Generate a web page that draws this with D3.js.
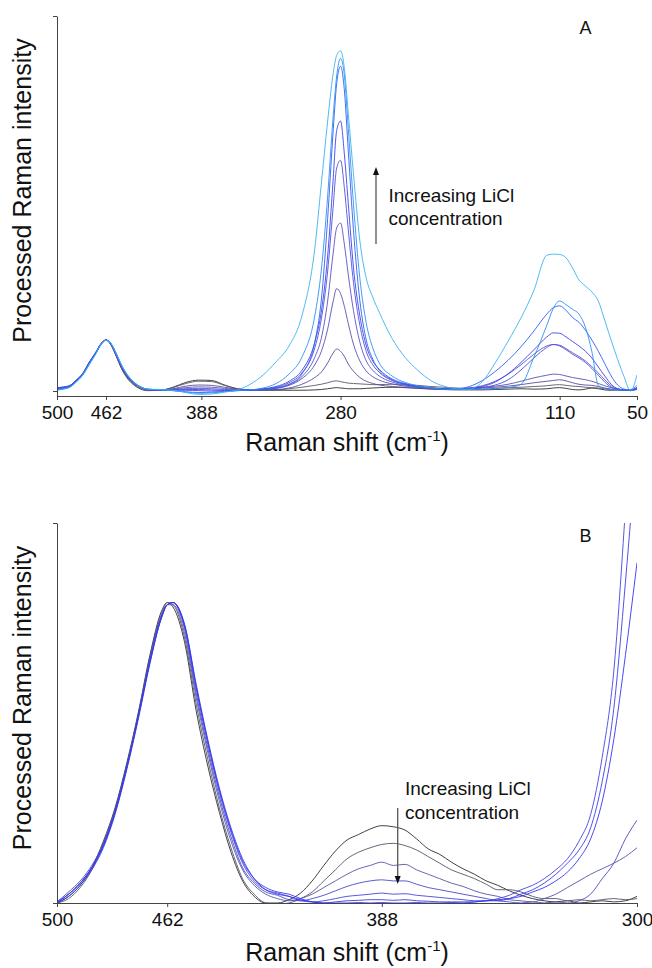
<!DOCTYPE html>
<html><head><meta charset="utf-8">
<script src="https://cdn.jsdelivr.net/npm/d3@7"></script>
<style>
body{margin:0;background:#fff}
svg{display:block}
text{font-family:"Liberation Sans",Arial,sans-serif;fill:#111}
</style>
</head><body>
<svg id="chart" width="652" height="968"></svg>
<script>
// ---------- Panel A data (Raman shift, cm-1) ----------
const xA = [500,495,490,485,480,475,470,466,462,458,454,450,445,440,435,430,
  420,410,400,390,380,370,360,350,340,330,320,310,
  300,295,290,286,283,280,277,274,270,265,260,255,250,
  240,230,220,210,200,190,180,170,160,150,140,130,120,115,110,105,100,95,90,85,80,75,70,65,60,55,50];
const ticksA = [500,462,388,280,110,50];

const spectrumA1 = [0.4,0.6,1.1,2.6,4.4,7.4,10.1,12.6,13.6,12.2,9.2,6.0,3.2,1.5,0.5,0.1,
  0.2,1.0,2.3,2.9,2.8,1.6,0.6,0.3,0.2,0.2,0.2,0.2,
  0.3,0.4,0.6,0.8,0.9,0.8,0.7,0.6,0.6,0.6,0.7,0.8,0.9,
  1.0,0.9,0.7,0.5,0.4,0.3,0.3,0.3,0.4,0.5,0.6,0.5,0.6,0.8,0.9,0.7,0.4,0.3,0.5,0.8,0.6,0.3,0.2,0.3,0.2,0.3,0.4];
const spectrumA2 = [0.5,0.7,1.2,2.7,4.5,7.5,10.2,12.5,13.6,12.3,9.4,6.2,3.4,1.7,0.7,0.3,
  0.2,0.9,2.0,2.6,2.5,1.5,0.6,0.3,0.3,0.3,0.6,1.0,
  1.5,1.8,2.2,2.6,2.7,2.5,2.3,2.1,2.0,1.9,1.8,1.7,1.7,
  1.8,1.6,1.5,1.2,1.0,0.8,0.6,0.5,0.7,0.9,1.0,1.2,1.4,1.6,1.7,1.5,1.3,1.2,1.0,0.9,0.8,0.6,0.4,0.3,0.4,0.3,0.5];
const spectrumA3 = [0.6,0.8,1.3,2.8,4.6,7.6,10.2,12.5,13.6,12.3,9.5,6.4,3.6,1.9,0.9,0.4,
  0.3,0.6,1.3,1.6,1.5,1.0,0.5,0.3,0.3,0.4,0.8,1.8,
  3.6,5.0,7.5,10.0,11.2,10.6,9.2,7.2,5.3,3.6,2.6,2.0,1.6,
  1.2,1.0,0.8,0.6,0.5,0.5,0.6,0.8,1.0,1.3,1.7,2.2,2.6,2.8,3.0,2.7,2.2,1.8,1.6,1.5,1.2,0.8,0.5,0.3,0.2,0.3,0.5];
const spectrumA4 = [0.7,0.8,1.3,2.8,4.7,7.7,10.3,12.5,13.6,12.4,9.6,6.5,3.7,2.0,1.0,0.4,
  0.3,0.5,0.9,1.1,1.0,0.7,0.4,0.3,0.4,0.7,1.5,3.3,
  7.0,10.5,16.5,23.5,27.3,26.0,22.5,18.0,12.5,8.0,5.3,3.8,2.9,
  1.9,1.3,1.0,0.7,0.6,0.6,0.8,1.0,1.3,1.8,2.6,3.5,4.2,4.5,4.4,4.0,3.6,3.3,3.0,2.6,2.0,1.4,0.9,0.5,0.3,0.2,0.4];
const spectrumA5 = [0.6,0.9,1.4,2.9,4.7,7.6,10.2,12.4,13.6,12.4,9.7,6.6,3.8,2.0,1.0,0.5,
  0.3,0.4,0.6,0.7,0.6,0.4,0.3,0.3,0.5,0.8,1.7,3.8,
  9.0,14.0,24.0,36.0,43.5,44.8,39.0,31.0,21.5,13.0,8.0,5.5,4.0,
  2.4,1.6,1.1,0.8,0.6,0.6,0.8,1.4,2.6,4.5,7.0,9.8,12.0,12.4,12.2,11.3,10.2,9.2,8.0,6.5,4.8,3.0,1.4,0.6,0.3,0.2,0.5];
const spectrumA6 = [0.8,1.0,1.4,2.9,4.6,7.5,10.1,12.4,13.6,12.5,9.8,6.7,3.9,2.1,1.0,0.4,
  0.3,0.3,0.4,0.4,0.3,0.2,0.2,0.3,0.5,1.0,2.2,4.8,
  11.5,19.0,32.0,48.0,59.5,61.5,54.0,43.0,29.0,17.5,10.5,7.0,5.0,
  2.8,1.8,1.2,0.8,0.6,0.5,0.6,0.9,1.6,3.0,5.6,8.8,11.6,12.4,12.0,11.0,9.8,8.8,7.6,6.0,4.2,2.4,1.0,0.4,0.3,0.3,0.6];
const spectrumA7 = [0.9,1.1,1.5,2.8,4.5,7.4,10.0,12.3,13.6,12.6,9.9,6.8,4.0,2.2,1.1,0.5,
  0.3,0.2,0.2,0.1,0.0,0.1,0.2,0.3,0.6,1.2,2.6,5.5,
  13.0,21.0,36.0,55.0,69.5,72.0,63.0,50.0,33.0,20.0,12.0,8.0,5.8,
  3.2,2.0,1.3,0.9,0.6,0.5,0.7,1.2,2.4,4.6,7.6,11.0,14.4,15.5,15.4,14.4,13.2,12.0,10.6,8.8,6.4,4.0,1.8,0.6,0.3,0.3,0.8];
const spectrumA8 = [0.5,0.8,1.3,2.7,4.5,7.4,10.1,12.4,13.6,12.5,9.8,6.8,3.9,2.1,1.0,0.4,
  0.3,0.1,-0.2,-0.4,-0.3,-0.1,0.1,0.2,0.4,0.8,1.8,4.5,
  13.0,24.0,46.0,68.0,82.0,86.6,80.0,64.0,43.0,24.0,13.5,8.5,5.5,
  3.0,1.8,1.1,0.7,0.5,0.6,1.2,2.8,5.2,8.2,11.8,16.0,20.5,22.2,22.7,21.5,19.6,18.3,16.2,13.6,10.6,7.3,4.0,1.6,0.5,0.3,1.0];
const spectrumA9 = [0.3,0.6,1.1,2.5,4.3,7.1,9.9,12.3,13.5,12.6,10.0,7.0,4.1,2.2,1.0,0.5,
  0.3,0.1,-0.3,-0.6,-0.5,-0.2,0.1,0.3,0.8,2.0,4.5,9.0,
  20.0,32.0,52.0,72.0,84.0,88.7,84.0,70.0,50.0,30.0,18.0,11.5,7.5,
  4.0,2.3,1.4,0.8,0.5,0.4,0.4,0.5,0.6,0.9,1.8,9.0,17.5,22.0,24.0,23.0,21.8,20.5,17.0,10.5,1.5,0.6,0.4,0.3,0.3,0.4,1.5];
const spectrumA10 = [0.2,0.5,1.0,2.4,4.2,7.0,9.8,12.3,13.5,12.6,10.0,7.0,4.2,2.3,1.1,0.5,
  0.4,0.2,-0.4,-0.9,-0.8,-0.3,0.3,1.8,4.3,7.8,12.0,20.0,
  38.0,55.0,72.0,84.0,89.5,90.7,86.0,74.0,58.0,40.0,30.0,25.0,21.0,
  14.0,9.0,5.5,2.8,1.3,0.6,0.5,2.5,7.5,13.3,19.5,26.8,36.2,36.5,36.4,35.5,32.8,29.6,28.0,26.4,24.0,18.8,13.5,8.4,3.8,0.0,4.3];
const seriesA = [spectrumA1,spectrumA2,spectrumA3,spectrumA4,spectrumA5,spectrumA6,spectrumA7,spectrumA8,spectrumA9,spectrumA10];
const coloursA = ['#2e2e2e','#5a5a6e','#55509a','#5b52b4','#5a52cc','#4f4fdc','#3d44ec','#2e62f0','#2f8ef5','#3bb3f2'];

// ---------- Panel B data ----------
const xB = [500,496,492,488,484,480,476,472,468,464,462,460,456,452,448,444,440,436,432,
  428,424,420,416,412,408,404,400,396,392,388,384,380,376,372,368,364,360,356,352,348,344,340,336,332,328,324,320,316,312,308,304,300];
const ticksB = [500,462,388,300];

const spectrumB1 = [0.0,0.3,0.8,1.6,2.8,4.3,6.3,8.6,11.2,13.2,13.6,13.4,11.8,8.7,6.2,4.1,2.3,1.0,0.3,
  0.0,0.0,0.15,0.45,1.0,1.7,2.35,2.85,3.1,3.35,3.5,3.45,3.3,2.9,2.45,2.2,1.85,1.55,1.3,1.0,0.8,0.55,0.35,0.2,0.1,0.05,0.1,0.0,0.05,0.1,0.05,0.1,0.3];
const spectrumB2 = [0.0,0.2,0.7,1.5,2.7,4.2,6.2,8.5,11.1,13.1,13.6,13.5,12.0,9.0,6.5,4.3,2.5,1.1,0.4,
  0.0,-0.05,0.0,0.2,0.5,1.0,1.5,2.0,2.3,2.5,2.65,2.7,2.6,2.4,2.1,1.8,1.5,1.3,1.1,0.85,0.6,0.6,0.5,0.3,0.2,0.2,0.1,0.15,0.1,0.15,0.2,0.15,0.2];
const spectrumB3 = [0.0,0.4,0.9,1.6,2.6,4.1,6.1,8.4,11.0,13.0,13.5,13.5,12.2,9.3,6.8,4.6,2.8,1.5,0.8,
  0.4,0.2,0.1,0.2,0.4,0.7,1.0,1.3,1.55,1.7,1.85,1.7,1.75,1.5,1.3,1.1,0.9,0.75,0.55,0.4,0.3,0.15,0.1,0.05,0.2,0.4,0.7,1.0,1.3,1.55,1.8,2.1,2.5];
const spectrumB4 = [0.05,0.5,1.0,1.7,2.7,4.2,6.2,8.5,11.0,13.0,13.5,13.6,12.4,9.5,7.0,4.8,3.0,1.6,0.9,
  0.5,0.35,0.15,0.1,0.2,0.35,0.55,0.75,0.9,1.0,1.05,1.0,1.0,0.85,0.7,0.6,0.5,0.4,0.3,0.2,0.1,0.05,0.0,0.05,0.0,0.05,0.0,0.1,0.4,1.1,1.8,2.9,3.75];
const spectrumB5 = [0.0,0.4,0.9,1.6,2.6,4.1,6.1,8.4,10.9,12.9,13.5,13.6,12.5,9.7,7.2,5.0,3.2,1.8,1.0,
  0.6,0.45,0.3,0.1,0.05,0.1,0.2,0.3,0.35,0.4,0.45,0.4,0.42,0.35,0.3,0.25,0.2,0.15,0.1,0.1,0.2,0.35,0.6,0.8,1.1,1.5,2.0,2.8,4.0,6.6,10.5,17.8,26.0];
const spectrumB6 = [0.0,0.3,0.8,1.5,2.5,4.0,6.0,8.3,10.8,12.9,13.5,13.6,12.6,9.8,7.3,5.1,3.3,1.9,1.1,
  0.7,0.5,0.4,0.2,0.05,0.0,0.05,0.1,0.12,0.15,0.15,0.12,0.15,0.1,0.08,0.05,0.05,0.05,0.05,0.1,0.1,0.2,0.4,0.6,0.9,1.3,1.8,2.4,3.4,5.5,8.8,14.5,21.0];
const spectrumB7 = [0.05,0.4,0.9,1.6,2.6,4.1,6.1,8.4,10.9,12.9,13.5,13.6,12.6,9.9,7.4,5.2,3.4,2.0,1.1,
  0.6,0.4,0.3,0.15,0.05,0.0,0.0,0.0,0.02,0.0,0.02,0.0,0.0,0.02,0.0,0.0,0.02,0.0,0.05,0.1,0.15,0.2,0.3,0.5,0.7,1.0,1.4,2.0,2.9,4.6,7.4,11.2,15.4];
const seriesB = [spectrumB1,spectrumB2,spectrumB3,spectrumB4,spectrumB5,spectrumB6,spectrumB7];
const coloursB = ['#2e2e2e','#55556a','#5656a8','#4a4ac4','#4646e0','#3d3dea','#3535f2'];

// ---------- drawing ----------
const svg = d3.select('#chart');
const defs = svg.append('defs');

function panel(cfg){
  const x = d3.scaleLinear().domain(cfg.xDomain).range([57, 637]);
  const y = d3.scaleLinear().domain(cfg.yDomain).range([cfg.bottom, cfg.top]);
  const clipId = 'clip' + cfg.name;
  defs.append('clipPath').attr('id', clipId).append('rect')
    .attr('x', 57).attr('y', cfg.top).attr('width', 580).attr('height', cfg.bottom - cfg.top);
  const g = svg.append('g');
  const line = d3.line().x(d => x(d[0])).y(d => y(d[1])).curve(d3.curveMonotoneX);
  const lg = g.append('g').attr('clip-path', `url(#${clipId})`);
  cfg.series.forEach((s, i) => {
    const pts = cfg.xs.map((xv, j) => [xv, s[j]]).filter(p => p[1] !== undefined);
    lg.append('path').datum(pts).attr('d', line)
      .attr('fill', 'none').attr('stroke', cfg.colours[i])
      .attr('stroke-width', 1).attr('stroke-opacity', 0.9);
  });
  // axes
  const xAxis = d3.axisBottom(x).tickValues(cfg.ticks).tickSize(4).tickSizeOuter(0).tickPadding(6).tickFormat(d3.format('d'));
  const gx = g.append('g').attr('transform', `translate(0,${cfg.bottom})`).call(xAxis);
  gx.selectAll('text').attr('font-size', 19).style('font-family', '"Liberation Sans",Arial,sans-serif').attr('fill', '#111');
  const yAxis = d3.axisLeft(y).tickValues([0, cfg.yDomain[1]]).tickSize(4).tickSizeOuter(0).tickFormat('');
  const gy = g.append('g').attr('transform', 'translate(57,0)').call(yAxis);
  [gx, gy].forEach(a => { a.select('.domain').attr('stroke', '#444'); a.selectAll('.tick line').attr('stroke', '#444'); });
  // titles
  const xt = g.append('text').attr('x', 347).attr('y', cfg.xTitleY).attr('text-anchor', 'middle').attr('font-size', 25);
  xt.append('tspan').text('Raman shift (cm');
  xt.append('tspan').attr('font-size', 15).attr('dy', -10).text('-1');
  xt.append('tspan').attr('dy', 10).text(')');
  g.append('text').attr('transform', `translate(31,${cfg.yTitleY}) rotate(-90)`)
    .attr('text-anchor', 'middle').attr('font-size', 25).text('Processed Raman intensity');
  g.append('text').attr('x', 585.5).attr('y', cfg.letterY).attr('text-anchor', 'middle').attr('font-size', 18).text(cfg.name);
  // annotation
  const a = cfg.arrow;
  g.append('line').attr('x1', a.x).attr('x2', a.x).attr('y1', a.y1).attr('y2', a.y2 + (a.y2 < a.y1 ? 6 : -6))
    .attr('stroke', '#555').attr('stroke-width', 1.3);
  const dir = a.y2 < a.y1 ? 1 : -1;
  g.append('path').attr('d', `M${a.x},${a.y2} L${a.x - 3},${a.y2 + 8 * dir} L${a.x + 3},${a.y2 + 8 * dir} Z`).attr('fill', '#111');
  g.append('text').attr('x', a.tx).attr('y', a.ty1).attr('font-size', 19).text('Increasing LiCl');
  g.append('text').attr('x', a.tx).attr('y', a.ty2).attr('font-size', 19).text('concentration');
}

panel({name: 'A', xs: xA, series: seriesA, colours: coloursA, ticks: ticksA,
  xDomain: [500, 50], yDomain: [-1.33, 100], top: 16, bottom: 396,
  xTitleY: 451, yTitleY: 190.5, letterY: 33.5,
  arrow: {x: 376, y1: 244, y2: 167, tx: 388.5, ty1: 201.5, ty2: 225}});
panel({name: 'B', xs: xB, series: seriesB, colours: coloursB, ticks: ticksB,
  xDomain: [500, 300], yDomain: [0, 17.2], top: 523, bottom: 903,
  xTitleY: 961, yTitleY: 698, letterY: 541.5,
  arrow: {x: 397.7, y1: 808, y2: 884, tx: 405, ty1: 795, ty2: 818.5}});
</script>
</body></html>
